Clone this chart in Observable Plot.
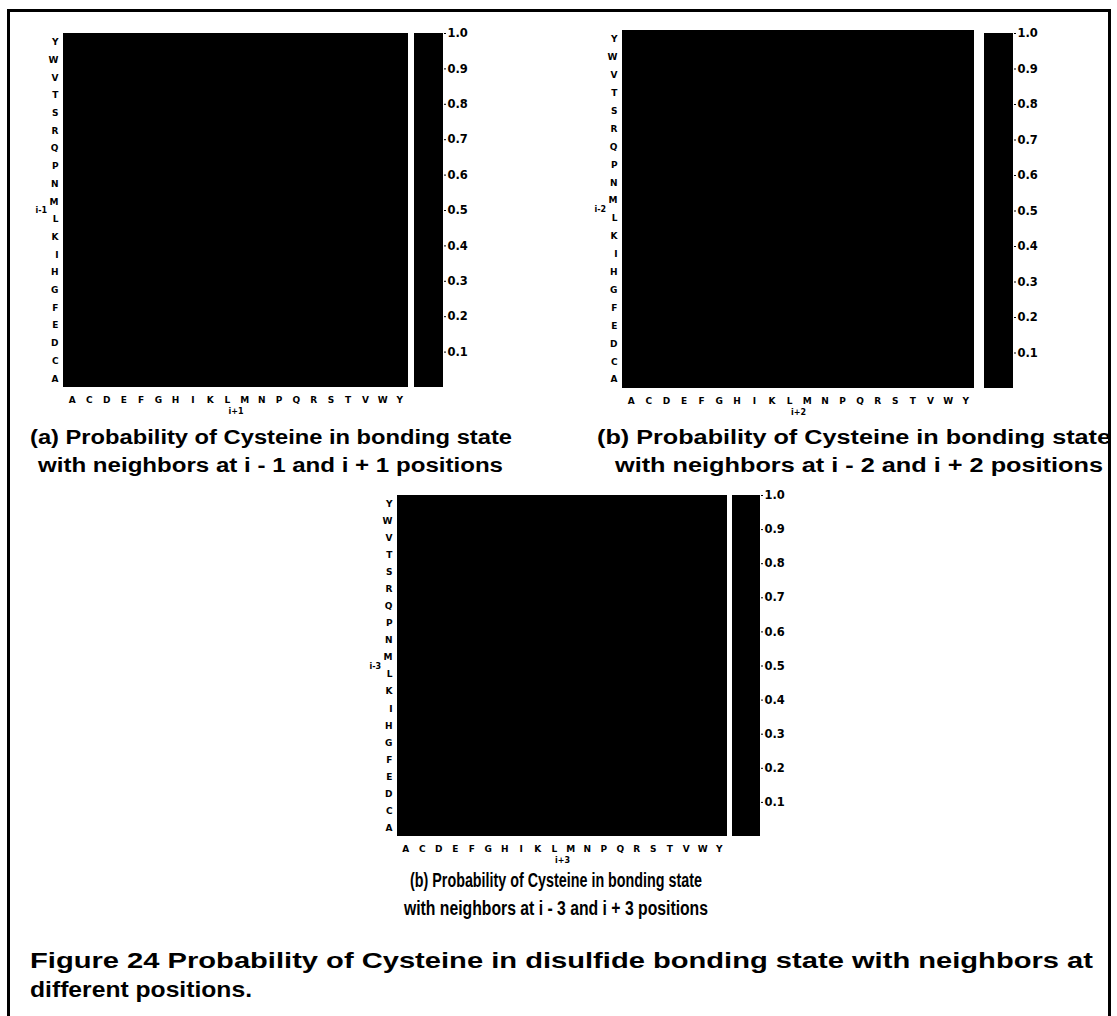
<!DOCTYPE html>
<html><head><meta charset="utf-8">
<script src="https://cdn.jsdelivr.net/npm/d3@7"></script>
<script src="https://cdn.jsdelivr.net/npm/@observablehq/plot@0.6"></script>
<style>
body{margin:0;background:#fff;}
#page{position:relative;width:1117px;height:1016px;overflow:hidden;background:#fff;}
#frame{position:absolute;left:7px;top:9px;width:1104px;height:1020px;border:3px solid #000;border-bottom:none;box-sizing:border-box;}
.panel{position:absolute;}
.panel svg{overflow:visible;display:block;}
.line{position:absolute;white-space:nowrap;font-family:"Liberation Sans",Arial,sans-serif;font-weight:bold;transform-origin:0 50%;line-height:1;}
</style></head>
<body><div id="page"><div id="frame"></div></div>
<script>
// amino-acid categories (x: i+k residue, y: i-k residue)
const residues = ["A","C","D","E","F","G","H","I","K","L","M","N","P","Q","R","S","T","V","W","Y"];
// colour-bar bands and tick labels
const colorbarLow  = [0.0,0.1,0.2,0.3,0.4,0.5,0.6,0.7,0.8,0.9];
const colorbarHigh = [0.1,0.2,0.3,0.4,0.5,0.6,0.7,0.8,0.9,1.0];
const colorbarTicks = [0.1,0.2,0.3,0.4,0.5,0.6,0.7,0.8,0.9,1.0];
// probabilities (rows: i-k residue A..Y, cols: i+k residue A..Y); every cell is saturated black
const probNeighbors1 = [
 [1,1,1,1,1,1,1,1,1,1,1,1,1,1,1,1,1,1,1,1],[1,1,1,1,1,1,1,1,1,1,1,1,1,1,1,1,1,1,1,1],
 [1,1,1,1,1,1,1,1,1,1,1,1,1,1,1,1,1,1,1,1],[1,1,1,1,1,1,1,1,1,1,1,1,1,1,1,1,1,1,1,1],
 [1,1,1,1,1,1,1,1,1,1,1,1,1,1,1,1,1,1,1,1],[1,1,1,1,1,1,1,1,1,1,1,1,1,1,1,1,1,1,1,1],
 [1,1,1,1,1,1,1,1,1,1,1,1,1,1,1,1,1,1,1,1],[1,1,1,1,1,1,1,1,1,1,1,1,1,1,1,1,1,1,1,1],
 [1,1,1,1,1,1,1,1,1,1,1,1,1,1,1,1,1,1,1,1],[1,1,1,1,1,1,1,1,1,1,1,1,1,1,1,1,1,1,1,1],
 [1,1,1,1,1,1,1,1,1,1,1,1,1,1,1,1,1,1,1,1],[1,1,1,1,1,1,1,1,1,1,1,1,1,1,1,1,1,1,1,1],
 [1,1,1,1,1,1,1,1,1,1,1,1,1,1,1,1,1,1,1,1],[1,1,1,1,1,1,1,1,1,1,1,1,1,1,1,1,1,1,1,1],
 [1,1,1,1,1,1,1,1,1,1,1,1,1,1,1,1,1,1,1,1],[1,1,1,1,1,1,1,1,1,1,1,1,1,1,1,1,1,1,1,1],
 [1,1,1,1,1,1,1,1,1,1,1,1,1,1,1,1,1,1,1,1],[1,1,1,1,1,1,1,1,1,1,1,1,1,1,1,1,1,1,1,1],
 [1,1,1,1,1,1,1,1,1,1,1,1,1,1,1,1,1,1,1,1],[1,1,1,1,1,1,1,1,1,1,1,1,1,1,1,1,1,1,1,1]
];
const probNeighbors2 = [
 [1,1,1,1,1,1,1,1,1,1,1,1,1,1,1,1,1,1,1,1],[1,1,1,1,1,1,1,1,1,1,1,1,1,1,1,1,1,1,1,1],
 [1,1,1,1,1,1,1,1,1,1,1,1,1,1,1,1,1,1,1,1],[1,1,1,1,1,1,1,1,1,1,1,1,1,1,1,1,1,1,1,1],
 [1,1,1,1,1,1,1,1,1,1,1,1,1,1,1,1,1,1,1,1],[1,1,1,1,1,1,1,1,1,1,1,1,1,1,1,1,1,1,1,1],
 [1,1,1,1,1,1,1,1,1,1,1,1,1,1,1,1,1,1,1,1],[1,1,1,1,1,1,1,1,1,1,1,1,1,1,1,1,1,1,1,1],
 [1,1,1,1,1,1,1,1,1,1,1,1,1,1,1,1,1,1,1,1],[1,1,1,1,1,1,1,1,1,1,1,1,1,1,1,1,1,1,1,1],
 [1,1,1,1,1,1,1,1,1,1,1,1,1,1,1,1,1,1,1,1],[1,1,1,1,1,1,1,1,1,1,1,1,1,1,1,1,1,1,1,1],
 [1,1,1,1,1,1,1,1,1,1,1,1,1,1,1,1,1,1,1,1],[1,1,1,1,1,1,1,1,1,1,1,1,1,1,1,1,1,1,1,1],
 [1,1,1,1,1,1,1,1,1,1,1,1,1,1,1,1,1,1,1,1],[1,1,1,1,1,1,1,1,1,1,1,1,1,1,1,1,1,1,1,1],
 [1,1,1,1,1,1,1,1,1,1,1,1,1,1,1,1,1,1,1,1],[1,1,1,1,1,1,1,1,1,1,1,1,1,1,1,1,1,1,1,1],
 [1,1,1,1,1,1,1,1,1,1,1,1,1,1,1,1,1,1,1,1],[1,1,1,1,1,1,1,1,1,1,1,1,1,1,1,1,1,1,1,1]
];
const probNeighbors3 = [
 [1,1,1,1,1,1,1,1,1,1,1,1,1,1,1,1,1,1,1,1],[1,1,1,1,1,1,1,1,1,1,1,1,1,1,1,1,1,1,1,1],
 [1,1,1,1,1,1,1,1,1,1,1,1,1,1,1,1,1,1,1,1],[1,1,1,1,1,1,1,1,1,1,1,1,1,1,1,1,1,1,1,1],
 [1,1,1,1,1,1,1,1,1,1,1,1,1,1,1,1,1,1,1,1],[1,1,1,1,1,1,1,1,1,1,1,1,1,1,1,1,1,1,1,1],
 [1,1,1,1,1,1,1,1,1,1,1,1,1,1,1,1,1,1,1,1],[1,1,1,1,1,1,1,1,1,1,1,1,1,1,1,1,1,1,1,1],
 [1,1,1,1,1,1,1,1,1,1,1,1,1,1,1,1,1,1,1,1],[1,1,1,1,1,1,1,1,1,1,1,1,1,1,1,1,1,1,1,1],
 [1,1,1,1,1,1,1,1,1,1,1,1,1,1,1,1,1,1,1,1],[1,1,1,1,1,1,1,1,1,1,1,1,1,1,1,1,1,1,1,1],
 [1,1,1,1,1,1,1,1,1,1,1,1,1,1,1,1,1,1,1,1],[1,1,1,1,1,1,1,1,1,1,1,1,1,1,1,1,1,1,1,1],
 [1,1,1,1,1,1,1,1,1,1,1,1,1,1,1,1,1,1,1,1],[1,1,1,1,1,1,1,1,1,1,1,1,1,1,1,1,1,1,1,1],
 [1,1,1,1,1,1,1,1,1,1,1,1,1,1,1,1,1,1,1,1],[1,1,1,1,1,1,1,1,1,1,1,1,1,1,1,1,1,1,1,1],
 [1,1,1,1,1,1,1,1,1,1,1,1,1,1,1,1,1,1,1,1],[1,1,1,1,1,1,1,1,1,1,1,1,1,1,1,1,1,1,1,1]
];
const axisLabels = [["i-1","i+1"],["i-2","i+2"],["i-3","i+3"]];
const captions = [
  ["(a) Probability of Cysteine in bonding state","with neighbors at i - 1 and i + 1 positions"],
  ["(b) Probability of Cysteine in bonding state","with neighbors at i - 2 and i + 2 positions"],
  ["(b) Probability of Cysteine in bonding state","with neighbors at i - 3 and i + 3 positions"]
];
const figureTitle = ["Figure 24 Probability of Cysteine in disulfide bonding state with neighbors at","different positions."];

const page = document.getElementById("page");
const colorScale = {type:"linear", domain:[0,1], range:["#000000","#000000"]};

function place(node, left, top) {
  const d = document.createElement("div");
  d.className = "panel";
  d.style.left = left + "px"; d.style.top = top + "px";
  d.appendChild(node);
  page.appendChild(d);
}

function heatmap(values, labels, box) {
  const cells = [];
  values.forEach((row, i) => row.forEach((p, j) => cells.push({yRes: residues[i], xRes: residues[j], p})));
  const mL = 48, mR = 2, mT = 2, mB = 34;
  const svg = Plot.plot({
    width: box.w + mL + mR, height: box.h + mT + mB,
    marginLeft: mL, marginRight: mR, marginTop: mT, marginBottom: mB,
    x: {domain: residues, padding: 0, round: false, tickSize: 0, tickPadding: 9, label: null},
    y: {domain: residues.slice().reverse(), padding: 0, round: false, tickSize: 0, tickPadding: 5, label: null},
    color: colorScale,
    style: {fontFamily: "'DejaVu Sans', sans-serif", fontWeight: "bold", fontSize: "9px", color: "#000", background: "transparent"},
    marks: [
      Plot.cell(cells, {x: "xRes", y: "yRes", fill: "p", inset: 0, shapeRendering: "crispEdges"}),
      Plot.text([labels[0]], {frameAnchor: "left", dx: -28, text: d => d, fontSize: 8}),
      Plot.text([labels[1]], {frameAnchor: "bottom", dy: 26, text: d => d, fontSize: 8})
    ]
  });
  place(svg, box.x - mL, box.y - mT);
}

function colorbar(box) {
  const mT = 10, mB = 2, mR = 36;
  const svg = Plot.plot({
    width: box.w + mR, height: box.h + mT + mB,
    marginLeft: 0, marginRight: mR, marginTop: mT, marginBottom: mB,
    x: {axis: null},
    y: {domain: [0, 1], ticks: colorbarTicks, tickFormat: d3.format(".1f"), axis: "right", tickSize: 2, tickPadding: 2, label: null},
    color: colorScale,
    style: {fontFamily: "'DejaVu Sans', sans-serif", fontWeight: "bold", fontSize: "11.5px", color: "#000", background: "transparent"},
    marks: [
      Plot.rect(colorbarLow.map((lo, i) => ({lo, hi: colorbarHigh[i]})), {y1: "lo", y2: "hi", fill: "lo", shapeRendering: "crispEdges"})
    ]
  });
  place(svg, box.x, box.y - mT);
}

function textLine(str, left, right, cy, size) {
  const s = document.createElement("span");
  s.className = "line";
  s.textContent = str;
  s.style.fontSize = size + "px";
  page.appendChild(s);
  const r = s.getBoundingClientRect();
  const k = (right - left) / r.width;
  s.style.left = left + "px";
  s.style.top = (cy - r.height / 2) + "px";
  s.style.transform = `scaleX(${k})`;
}

const panels = [
  {values: probNeighbors1, heat: {x: 63, y: 33, w: 345, h: 354}, bar: {x: 414, y: 33, w: 29, h: 354},
   cap: [[30, 512, 437], [38, 503, 465]]},
  {values: probNeighbors2, heat: {x: 622, y: 30, w: 352, h: 358}, bar: {x: 984, y: 33, w: 29, h: 355},
   cap: [[597, 1111, 437], [615, 1103, 465]]},
  {values: probNeighbors3, heat: {x: 397, y: 495, w: 330, h: 341}, bar: {x: 732, y: 495, w: 28, h: 341},
   cap: [[410, 702, 880], [404, 708, 908]]}
];
panels.forEach((p, i) => {
  heatmap(p.values, axisLabels[i], p.heat);
  colorbar(p.bar);
  textLine(captions[i][0], p.cap[0][0], p.cap[0][1], p.cap[0][2], 20);
  textLine(captions[i][1], p.cap[1][0], p.cap[1][1], p.cap[1][2], 20);
});
textLine(figureTitle[0], 30, 1093, 961, 22);
textLine(figureTitle[1], 30, 252, 990, 22);
</script>
</body></html>
